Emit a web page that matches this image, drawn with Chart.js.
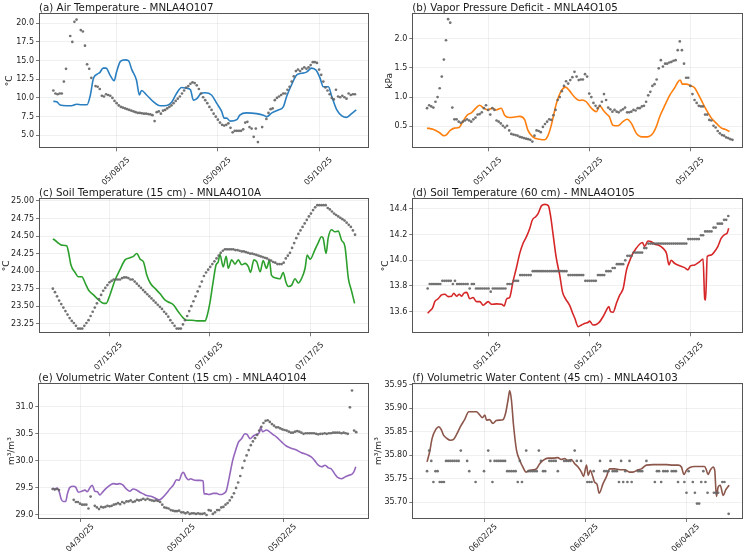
<!DOCTYPE html>
<html><head><meta charset="utf-8">
<script src="https://cdn.jsdelivr.net/npm/chart.js@4.4.0/dist/chart.umd.min.js"></script>
<style>
html,body{margin:0;padding:0;background:#fff;}
#wrap{position:relative;width:746px;height:554px;overflow:hidden;background:#fff;}
canvas{position:absolute;}
</style></head><body><div id="wrap">
<canvas id="cA" width="373" height="185" style="left:0px;top:0px"></canvas>
<canvas id="cB" width="373" height="185" style="left:373px;top:0px"></canvas>
<canvas id="cC" width="373" height="185" style="left:0px;top:185px"></canvas>
<canvas id="cD" width="373" height="185" style="left:373px;top:185px"></canvas>
<canvas id="cE" width="373" height="184" style="left:0px;top:370px"></canvas>
<canvas id="cF" width="373" height="184" style="left:373px;top:370px"></canvas>
</div>
<script>
// ---------------- DATA (times in hours from midnight of first labelled date) ----------------
// (a) Air Temperature
const airDates = ['05/08/25','05/09/25','05/10/25'];
const airYTicks = [5.0,7.5,10.0,12.5,15.0,17.5,20.0];
const airLineT = [-15.0,-14.2,-13.4,-11.9,-10.7,-9.5,-8.3,-7.0,-6.3,-5.5,-4.6,-4.0,-3.2,-2.5,-1.6,-0.6,0,0.9,2.0,2.8,3.6,4.7,5.4,5.9,7.1,8.7,10.3,11.9,13.0,14.2,15.4,16.6,17.5,18.2,19.0,20.0,20.9,22.5,23.7,24.9,25.5,26.1,26.9,28.5,29.2,30.8,33.2,34.8,35.6,36.8,38.3,39.5,40.3,41.5,42.7,43.9,45.1,46.2,47.3,48.2,49.0,50.2,51.0,52.2,53.4,54.5,55.7,56.8];
const airLineV = [9.55,9.5,9.05,8.95,8.95,9.15,9.1,9.1,10.2,12.6,13.2,13.4,14.0,14.0,13.1,12.3,13.5,14.9,15.1,15.0,13.8,12.4,10.4,11.0,10.4,9.5,8.95,9.0,9.4,10.6,11.4,11.3,11.1,9.7,9.9,10.6,10.7,10.4,9.3,8.2,7.3,7.3,6.9,7.1,7.7,8.0,7.9,7.7,7.5,8.0,8.4,8.8,10.2,11.8,13.1,13.3,13.5,14.0,13.7,12.7,11.5,11.5,10.2,8.4,7.6,7.4,7.9,8.4];
const airRawStart = -15.0, airRawStep = 0.5;
const airRaw = [11.0,10.6,10.5,10.6,10.6,12.2,13.9,null,18.3,17.5, 20.2,20.5,null,19.1,18.9,17.0,14.5,13.9,12.7,null, 11.6,11.5,11.2,10.3,10.2,10.5,10.4,10.3,10.0,9.6, 9.3,9.0,8.8,8.7,8.6,8.5,8.4,8.3,8.2,8.1, 8.0,8.0,7.95,7.9,7.9,7.85,7.8,7.7,6.9,8.1, 8.2,7.9,8.3,8.4,8.6,8.8,9.0,9.3,9.6,9.9, 10.2,10.6,11.0,11.4,11.6,11.9,12.1,12.0,11.7,11.2, 10.6,10.1,9.7,9.3,8.8,8.4,7.9,7.5,7.1,6.7, 6.4,6.3,6.4,6.6,6.0,5.4,5.6,5.6,5.6,5.6, 5.8,6.7,6.8,6.1,5.9,4.8,5.9,4.1,null,6.1, null,7.2,8.0,8.5,8.6,9.7,10.0,10.2,10.4,10.6, 10.6,11.1,11.5,12.2,12.9,13.6,13.8,13.6,13.9,14.1, 13.9,14.1,14.4,14.8,14.8,14.7,13.8,13.1,12.2,11.4, 11.0,10.5,10.0,9.8,11.1,10.2,10.1,10.3,10.1,9.9, 10.6,10.4,10.5,10.5];

// (b) Vapor Pressure Deficit
const vpdDates = ['05/11/25','05/12/25','05/13/25'];
const vpdYTicks = [0.5,1.0,1.5,2.0];
const vpdLineT = [-14.6,-13.2,-11.6,-10.6,-10.1,-9.1,-8.1,-7.0,-6.1,-5.1,-4.1,-2.9,-2.1,-1.3,-0.2,0.9,1.8,3.0,3.8,5.0,6.2,7.4,8.6,9.3,10.5,12.1,13.3,14.1,14.9,16.1,17.3,18.3,19.2,20.4,21.6,22.2,23.2,24.4,25.6,26.4,27.2,27.9,28.7,29.5,30.7,31.9,32.9,33.9,35.1,36.3,37.8,39.0,39.8,40.6,41.6,43.0,44.2,45.0,45.5,46.0,46.9,48.1,48.9,49.7,50.9,51.7,52.9,54.1,55.3,56.1,57.2];
const vpdLineV = [0.47,0.45,0.39,0.34,0.35,0.43,0.47,0.48,0.58,0.69,0.73,0.82,0.86,0.82,0.78,0.81,0.78,0.81,0.69,0.65,0.66,0.67,0.61,0.44,0.32,0.28,0.27,0.34,0.52,0.89,1.11,1.17,1.11,1.0,0.94,0.95,0.92,0.81,0.75,0.85,0.78,0.72,0.66,0.52,0.51,0.58,0.62,0.55,0.38,0.32,0.32,0.38,0.49,0.66,0.82,1.03,1.16,1.26,1.29,1.22,1.22,1.19,1.16,1.06,0.89,0.78,0.64,0.55,0.47,0.45,0.41];
const vpdRawStart = -14.6, vpdRawStep = 0.5;
const vpdRaw = [0.81,0.86,0.84,0.82,0.92,1.0,1.15,1.35,1.64,1.97, 2.33,2.27,0.82,0.62,0.62,0.58,0.56,0.58,0.60,0.62, 0.60,0.58,0.62,0.65,0.70,0.71,0.74,0.81,0.86,0.78, 0.70,0.81,0.78,0.60,0.58,0.55,0.51,0.48,0.51,0.43, 0.37,0.36,0.35,0.34,0.32,0.31,0.30,0.29,0.28,0.27, 0.24,0.34,0.43,0.42,0.40,0.49,0.54,0.58,0.62,0.61, 0.69,0.78,0.95,1.0,1.1,1.19,1.27,1.23,1.29,1.34, 1.43,1.35,1.29,1.30,1.30,1.39,1.35,1.06,1.0,0.90, 0.85,0.81,0.85,0.92,1.05,0.95,0.82,0.79,0.75,0.78, 0.75,0.74,0.77,0.79,0.82,0.74,0.74,0.75,0.78,0.77, 0.81,0.81,0.84,0.85,0.92,1.03,1.09,1.19,1.22,1.30, 1.49,1.63,1.52,1.57,1.57,1.59,1.60,1.62,1.63,1.80, 1.95,1.80,1.57,1.33,1.33,1.19,1.05,0.95,0.90,0.85, 0.84,0.84,0.70,0.70,0.61,0.60,0.51,0.48,0.42,0.38, 0.35,0.34,0.31,0.30,0.28,0.27];

// (c) Soil Temperature 15 cm
const s15Dates = ['07/15/25','07/16/25','07/17/25'];
const s15YTicks = [23.25,23.50,23.75,24.00,24.25,24.50,24.75,25.00];
const s15LineT = [-13.4,-12.9,-12.1,-11.3,-10.1,-9.7,-9.1,-8.1,-7.3,-6.5,-5.7,-4.9,-3.7,-2.5,-1.3,-0.7,0.2,1.4,2.6,3.8,5.0,5.8,6.6,7.4,8.2,9.0,9.8,11.0,12.1,13.3,14.1,15.3,16.5,17.7,18.5,19.7,20.9,22.1,22.9,23.3,24.0,24.8,25.5,26.0,26.4,27.2,27.9,28.4,29.2,30.0,30.8,31.6,32.4,33.2,33.7,34.5,35.2,36.0,36.7,37.5,38.2,38.7,39.9,40.7,41.5,42.1,42.7,43.5,44.3,45.1,45.9,46.7,47.2,47.9,49.0,49.8,50.6,51.0,51.7,52.2,53.0,53.8,54.6,55.4,56.2,57.0,57.8,58.5];
const s15LineV = [24.46,24.44,24.40,24.37,24.36,24.28,24.09,23.98,23.92,23.92,23.83,23.73,23.66,23.59,23.54,23.54,23.66,23.87,24.02,24.16,24.19,24.21,24.25,24.17,24.13,23.94,23.83,23.75,23.68,23.59,23.56,23.52,23.42,23.33,23.30,23.30,23.29,23.29,23.29,23.35,23.54,23.85,24.09,24.13,24.24,24.06,24.21,24.04,24.16,24.10,24.16,24.09,24.11,24.06,23.98,24.16,24.13,23.99,24.15,24.04,24.15,23.94,23.90,23.89,23.98,23.85,23.78,23.80,23.89,23.83,23.90,24.04,24.23,24.17,24.30,24.40,24.49,24.47,24.25,24.47,24.59,24.56,24.57,24.44,24.35,23.90,23.71,23.54];
const s15RawStart = -13.4, s15RawStep = 0.5;
const s15Raw = [23.75,23.70,23.64,23.58,23.53,23.48,23.43,23.38,23.33,23.29, 23.26,23.22,23.18,23.18,23.18,23.22,23.26,23.30,23.36,23.42, 23.48,23.54,23.60,23.66,23.72,23.76,23.80,23.84,23.86,23.88, 23.88,23.88,23.88,23.90,23.91,23.91,23.90,23.88,23.88,23.85, 23.82,23.79,23.76,23.73,23.70,23.67,23.64,23.61,23.58,23.55, 23.52,23.49,23.46,23.42,23.39,23.35,23.30,23.26,23.22,23.18, 23.18,23.18,23.24,23.30,23.36,23.43,23.50,23.57,23.64,23.71, 23.78,23.85,23.93,23.98,24.02,24.06,24.10,24.14,24.18,24.22, 24.26,24.29,24.31,24.31,24.31,24.31,24.31,24.30,24.30,24.29, 24.28,24.28,24.27,24.26,24.25,24.25,24.24,24.23,24.22,24.21, 24.20,24.19,24.18,24.16,24.15,24.13,24.12,24.10,24.10,24.10, 24.12,24.18,24.22,24.26,24.33,24.40,24.47,24.53,24.58,24.63, 24.68,24.73,24.78,24.82,24.87,24.91,24.94,24.94,24.94,24.94, 24.94,24.90,24.88,24.85,24.82,24.80,24.78,24.76,24.74,24.72, 24.69,24.66,24.63,24.58,24.52];

// (d) Soil Temperature 60 cm
const s60Dates = ['05/11/25','05/12/25','05/13/25'];
const s60YTicks = [13.6,13.8,14.0,14.2,14.4];
const s60LineT = [-14.4,-13.9,-13.2,-12.7,-11.9,-11.1,-10.3,-9.5,-8.7,-8.2,-7.5,-6.9,-6.3,-5.8,-5.1,-4.4,-3.6,-2.8,-2.0,-1.2,0,0.8,2.0,3.2,3.8,4.4,5.1,5.9,6.7,7.5,8.3,9.1,9.9,10.5,11.3,11.9,12.7,13.5,14.3,14.8,15.4,16.2,17.0,17.7,18.4,19.4,20.0,20.6,21.4,22.2,23.0,23.8,24.1,24.9,25.7,26.5,27.3,28.1,28.7,29.1,29.7,30.5,31.3,32.1,32.9,33.7,34.4,35.2,36.0,36.7,37.2,38.0,38.8,39.6,40.4,41.6,42.4,43.0,43.5,44.3,45.5,46.7,47.5,48.1,49.1,50.3,51.1,51.5,51.7,52.1,53.0,53.8,54.6,55.4,56.2,56.8,57.2];
const s60LineV = [13.587,13.605,13.63,13.678,13.70,13.73,13.735,13.717,13.72,13.743,13.72,13.735,13.72,13.743,13.75,13.70,13.71,13.678,13.678,13.65,13.678,13.657,13.66,13.657,13.644,13.70,13.71,13.834,13.94,14.054,14.133,14.184,14.25,14.314,14.34,14.366,14.426,14.436,14.426,14.353,14.21,14.016,13.886,13.75,13.70,13.647,13.595,13.548,13.483,13.496,13.509,13.517,13.527,13.496,13.50,13.52,13.56,13.61,13.64,13.60,13.595,13.665,13.73,13.78,13.925,14.0,14.054,14.093,14.125,14.138,14.107,14.15,14.145,14.125,14.12,14.093,14.054,13.964,14.0,13.977,13.958,13.943,13.925,13.956,13.964,13.99,14.01,13.70,13.69,14.03,14.04,14.067,14.107,14.17,14.20,14.21,14.25];
const s60RawStart = -14.4, s60RawStep = 0.5;
const s60Raw = [13.78, 13.815,13.815,13.815,13.815,13.815,13.815, 13.84,13.84,13.84,13.84,13.84, 13.815, 13.84, 13.815,13.815,13.815,13.815,13.815,13.815, 13.78, 13.815,13.815, 13.78,13.78,13.78,13.78,13.78,13.78,13.78, 13.755, 13.78,13.78,13.78,13.78,13.78,13.78,13.78, 13.815,13.815,13.815, 13.84,13.84,13.84,
 13.885,13.885,13.885,13.885,13.885,13.885,
 13.915,13.915,13.915,13.915,13.915,13.915,13.915,13.915,13.915,13.915,13.915,13.915,13.915,13.915,13.915,13.915,13.915,
 13.885,13.885,13.885,13.885,13.885,13.885,13.885,13.885,
 13.84,13.84,13.84,13.84,13.84,13.84,
 13.885,13.885,13.885,13.885, 13.915,13.915,13.915, 13.94,13.94, 13.97,13.97,13.97,13.97, 14.0, 14.035,14.035,14.035,
 14.06,14.06,14.06,14.06,14.06, 14.095,14.095,
 14.13,14.13,14.13,14.13,14.13,14.13,14.13,14.13,14.13,14.13,14.13,14.13,14.13,14.13,14.13,14.13,14.13,14.13,14.13,
 14.165,14.165,14.165,14.165,14.165,14.165, 14.195,14.195, 14.225,14.225,14.225,14.225, 14.255,14.255, 14.285,14.285,14.285, 14.315,14.315, 14.345];

// (e) Volumetric Water Content 15 cm
const w15Dates = ['04/30/25','05/01/25','05/02/25'];
const w15YTicks = [29.0,29.5,30.0,30.5,31.0];
const w15LineT = [-6.7,-6.2,-5.6,-5.1,-4.7,-4.2,-3.6,-3.2,-2.6,-1.8,-1.2,-0.6,0.2,1.0,1.5,2.1,2.7,3.3,3.9,4.5,5.1,6.1,6.9,7.7,8.5,9.2,10.0,10.8,11.6,12.4,13.2,14.0,14.8,15.6,16.8,17.9,18.6,19.5,20.3,21.1,21.9,22.7,23.3,23.9,24.3,24.9,25.5,26.0,26.6,27.4,28.2,29.0,29.2,29.8,30.4,31.4,32.2,32.8,33.4,33.9,34.5,35.2,36.0,36.8,37.4,38.1,38.9,39.4,40.1,40.9,41.7,42.3,42.6,43.1,44.0,44.7,45.5,46.4,47.6,48.8,50.0,51.1,52.3,53.5,54.7,55.5,56.3,57.1,57.9,58.7,59.4,60.2,60.8,61.8,62.6,63.4,64.2,64.7,65.2];
const w15LineV = [29.5,29.48,29.5,29.42,29.3,29.25,29.25,29.39,29.51,29.53,29.51,29.42,29.44,29.46,29.43,29.5,29.55,29.44,29.43,29.37,29.42,29.5,29.55,29.58,29.57,29.58,29.55,29.48,29.44,29.48,29.46,29.42,29.39,29.36,29.34,29.3,29.28,29.33,29.4,29.48,29.55,29.65,29.64,29.76,29.79,29.7,29.65,29.67,29.65,29.64,29.64,29.63,29.39,29.39,29.38,29.4,29.4,29.38,29.38,29.4,29.45,29.7,30.01,30.22,30.35,30.41,30.5,30.49,30.41,30.46,30.49,30.52,30.62,30.54,30.57,30.54,30.49,30.44,30.35,30.27,30.23,30.2,30.15,30.12,30.07,30.0,29.92,29.89,29.92,29.87,29.85,29.76,29.7,29.67,29.7,29.73,29.75,29.79,29.89];
const w15RawStart = -6.7, w15RawStep = 0.5;
const w15Raw = [29.48,29.47,29.48,29.46,null,null,null,null,null,null, 29.28,29.24,29.24,29.21,29.19,29.19,29.19,29.12,29.34,null, 29.17,29.14,29.11,29.15,29.14,29.15,29.17,29.16,29.17,29.19, 29.2,29.22,29.2,29.24,29.22,29.25,29.25,29.27,29.24,29.25, 29.28,29.27,29.28,29.3,29.28,29.3,29.28,29.27,29.26,29.27, 29.26,29.24,29.19,29.14,29.13,29.12,29.09,29.08,29.07,29.07, 29.08,29.05,29.05,29.03,29.05,29.02,29.03,29.03,29.02,29.03, 29.02,29.02,29.03,29.0,29.09,29.08,29.02,29.05,29.09,29.09, 29.14,29.15,29.19,29.22,29.27,29.33,29.4,29.5,29.6,29.72, 29.87,30.0,30.1,30.2,30.29,30.36,30.42,30.48,30.56,30.63, 30.7,30.74,30.75,30.72,30.68,30.65,30.62,30.62,30.6,30.58, 30.57,30.56,30.54,30.52,30.52,30.54,30.55,30.54,30.52,30.5, 30.51,30.51,30.51,30.51,30.51,30.5,30.49,30.5,30.5,30.51, 30.5,30.51,30.51,30.52,30.52,30.52,30.52,30.51,30.52,30.51, 30.5,30.99,31.3,30.56,30.53];

// (f) Volumetric Water Content 45 cm
const w45Dates = ['06/02/25','06/03/25','06/04/25'];
const w45YTicks = [35.70,35.75,35.80,35.85,35.90,35.95];
const w45LineT = [-13.5,-12.9,-12.3,-11.5,-10.7,-10.1,-9.6,-8.8,-8.0,-7.2,-6.4,-5.6,-4.6,-3.6,-2.6,-1.8,-1.0,-0.4,0.2,0.6,1.3,2.1,2.9,3.7,4.5,5.1,5.7,6.1,6.5,7.0,7.7,8.5,9.2,10.0,10.8,11.6,12.4,13.2,14.0,15.2,16.4,17.5,18.3,19.1,19.9,20.7,21.5,22.3,23.1,23.6,24.3,24.7,25.2,25.8,26.2,26.8,27.3,28.2,29.0,29.8,31.0,32.2,33.4,34.5,35.3,36.5,37.3,38.5,40.1,41.7,43.2,44.8,46.0,46.8,47.4,48.0,48.8,50.0,51.1,52.3,52.7,53.1,53.7,54.3,54.7,55.1,55.5,56.0,56.7,57.3,58.1];
const w45LineV = [35.786,35.807,35.836,35.854,35.861,35.854,35.843,35.836,35.832,35.834,35.846,35.861,35.876,35.893,35.893,35.893,35.886,35.88,35.886,35.875,35.876,35.868,35.874,35.875,35.876,35.889,35.918,35.938,35.918,35.864,35.811,35.789,35.775,35.764,35.768,35.769,35.771,35.782,35.789,35.794,35.794,35.795,35.791,35.793,35.789,35.791,35.782,35.775,35.764,35.755,35.779,35.757,35.768,35.754,35.743,35.738,35.719,35.739,35.754,35.771,35.771,35.769,35.769,35.764,35.764,35.769,35.771,35.779,35.780,35.780,35.780,35.779,35.779,35.775,35.759,35.768,35.774,35.776,35.776,35.776,35.769,35.759,35.769,35.775,35.768,35.712,35.732,35.736,35.714,35.726,35.736];
const w45RawStart = -13.5, w45RawStep = 0.5;
const w45Raw = [35.766,35.81,35.788,35.743,35.766,35.766,35.743,35.743,35.743,35.788, 35.788,35.788,35.788,35.788,35.788,35.788,35.81,null,null,35.788, 35.766,null,null,35.743,null,null,null,35.766,null,35.81, 35.788,35.743,35.788,35.788,35.788,35.788,35.788,35.788,35.766,35.766, 35.766,35.766,35.766,35.743,35.788,35.743,null,35.81,35.766,35.766, 35.766,35.766,35.766,35.81,35.788,35.766,35.766,null,35.788,35.788, 35.788,35.788,35.766,null,null,35.788,35.788,35.788,35.788,null, 35.81,35.788,null,35.788,null,null,35.743,35.743,35.743,35.766, null,null,35.788,null,35.766,35.766,35.766,35.788,35.766,35.766, 35.766,35.743,35.788,35.743,35.766,35.743,35.788,35.743,null,null, 35.766,35.766,35.766,null,35.788,null,null,null,35.743,35.766, 35.766,35.743,35.766,35.766,35.766,null,35.766,35.766,35.766,35.743, null,null,35.743,35.72,35.766,null,35.743,35.72,35.697,35.697, 35.743,35.766,35.743,35.72,null,null,35.72,35.72,35.72,null, 35.743,35.743,null,35.675];

const dayTicks = [0, 24, 48];

// ---------------- RENDERING ----------------
const FONT = '"DejaVu Sans", "Liberation Sans", sans-serif';

const decoPlugin = {
  id: 'deco',
  afterDraw(chart, args, o) {
    const ctx = chart.ctx, a = chart.chartArea;
    ctx.save();
    ctx.strokeStyle = '#555';
    ctx.lineWidth = 1;
    const l = Math.round(a.left) + 0.5, t = Math.round(a.top) + 0.5;
    const r = Math.round(a.right) - 0.5, b = Math.round(a.bottom) - 0.5;
    ctx.strokeRect(l, t, r - l, b - t);
    ctx.fillStyle = '#1a1a1a';
    ctx.font = '10.3px ' + FONT;
    ctx.textAlign = 'left';
    ctx.textBaseline = 'alphabetic';
    ctx.fillText(o.title, a.left, o.titleY);
    ctx.font = '9px ' + FONT;
    ctx.translate(o.ylabelX, (a.top + a.bottom) / 2);
    ctx.rotate(-Math.PI / 2);
    ctx.textAlign = 'center';
    ctx.textBaseline = 'middle';
    ctx.fillText(o.ylabel, 0, 0);
    ctx.restore();
  }
};

function makePanel(p) {
  const raw = [];
  p.raw.forEach((v, i) => { if (v !== null) raw.push({x: p.rawStart + i * p.rawStep, y: v}); });
  const line = p.lineT.map((t, i) => ({x: t, y: p.lineV[i]}));
  return new Chart(document.getElementById(p.id), {
    type: 'scatter',
    data: {
      datasets: [
        {type: 'scatter', data: raw, order: 0, pointRadius: 1.35, pointHoverRadius: 0,
         backgroundColor: 'rgba(100,100,100,0.9)', borderWidth: 0},
        {type: 'line', data: line, order: 1, showLine: true, pointRadius: 0, borderColor: p.color,
         borderWidth: 1.6, cubicInterpolationMode: 'monotone', fill: false}
      ]
    },
    options: {
      responsive: false, animation: false, events: [],
      layout: {autoPadding: false, padding: {top: p.top, right: p.right, left: 0, bottom: 0}},
      plugins: {
        legend: {display: false}, tooltip: {enabled: false},
        deco: {title: p.title, titleY: p.titleY, ylabel: p.ylabel, ylabelX: p.ylabelX}
      },
      scales: {
        x: {
          type: 'linear', min: p.xMin, max: p.xMax,
          afterBuildTicks: s => { s.ticks = dayTicks.map(v => ({value: v})); },
          afterFit: s => { s.height = p.xH; },
          grid: {color: 'rgba(0,0,0,0.08)', lineWidth: 0.8, drawTicks: true, tickLength: 3, tickColor: '#555'},
          border: {display: false},
          ticks: {autoSkip: false, minRotation: 45, maxRotation: 45, padding: p.xPad, labelOffset: 12,
                  color: '#222', font: {family: FONT, size: 8},
                  callback: (v, i) => p.dates[i]}
        },
        y: {
          type: 'linear', min: p.yMin, max: p.yMax,
          afterBuildTicks: s => { s.ticks = p.yTicks.map(v => ({value: v})); },
          afterFit: s => { s.width = p.yW; },
          grid: {color: 'rgba(0,0,0,0.08)', lineWidth: 0.8, drawTicks: true, tickLength: 3, tickColor: '#555'},
          border: {display: false},
          ticks: {padding: 2, color: '#222', font: {family: FONT, size: 8},
                  callback: v => Number(v).toFixed(p.yDec)}
        }
      }
    },
    plugins: [decoPlugin]
  });
}

makePanel({id: 'cA', title: '(a) Air Temperature - MNLA4O107', ylabel: '°C', ylabelX: 10, titleY: 10.5,
  top: 13.3, right: 3.7, yW: 39, xH: 36.7, xPad: 4, color: '#2a7fc1',
  xMin: -18.4, xMax: 59.9, yMin: 3.26, yMax: 21.34, yTicks: airYTicks, yDec: 1, dates: airDates,
  lineT: airLineT, lineV: airLineV, raw: airRaw, rawStart: airRawStart, rawStep: airRawStep});

makePanel({id: 'cB', title: '(b) Vapor Pressure Deficit - MNLA4O105', ylabel: 'kPa', ylabelX: 16.7, titleY: 10.5,
  top: 13.3, right: 3, yW: 39.3, xH: 36.7, xPad: 4, color: '#ff7f0e',
  xMin: -18.1, xMax: 60.4, yMin: 0.125, yMax: 2.43, yTicks: vpdYTicks, yDec: 1, dates: vpdDates,
  lineT: vpdLineT, lineV: vpdLineV, raw: vpdRaw, rawStart: vpdRawStart, rawStep: vpdRawStep});

makePanel({id: 'cC', title: '(c) Soil Temperature (15 cm) - MNLA4O10A', ylabel: '°C', ylabelX: 7, titleY: 10.5,
  top: 13.3, right: 3.7, yW: 39, xH: 36.7, xPad: 4, color: '#2ca02c',
  xMin: -16.7, xMax: 62.0, yMin: 23.113, yMax: 25.038, yTicks: s15YTicks, yDec: 2, dates: s15Dates,
  lineT: s15LineT, lineV: s15LineV, raw: s15Raw, rawStart: s15RawStart, rawStep: s15RawStep});

makePanel({id: 'cD', title: '(d) Soil Temperature (60 cm) - MNLA4O105', ylabel: '°C', ylabelX: 12.7, titleY: 10.5,
  top: 13.3, right: 3, yW: 39.3, xH: 36.7, xPad: 4, color: '#d62728',
  xMin: -18.05, xMax: 60.6, yMin: 13.431, yMax: 14.483, yTicks: s60YTicks, yDec: 1, dates: s60Dates,
  lineT: s60LineT, lineV: s60LineV, raw: s60Raw, rawStart: s60RawStart, rawStep: s60RawStep});

makePanel({id: 'cE', title: '(e) Volumetric Water Content (15 cm) - MNLA4O104', ylabel: 'm³/m³', ylabelX: 11.7, titleY: 10.5,
  top: 13.3, right: 3.7, yW: 38.3, xH: 35, xPad: 0, color: '#9467bd',
  xMin: -10.1, xMax: 68.4, yMin: 28.926, yMax: 31.433, yTicks: w15YTicks, yDec: 1, dates: w15Dates,
  lineT: w15LineT, lineV: w15LineV, raw: w15Raw, rawStart: w15RawStart, rawStep: w15RawStep});

makePanel({id: 'cF', title: '(f) Volumetric Water Content (45 cm) - MNLA4O103', ylabel: 'm³/m³', ylabelX: 6, titleY: 10.5,
  top: 13.3, right: 3, yW: 39.3, xH: 35, xPad: 0, color: '#8c564b',
  xMin: -17.0, xMax: 61.4, yMin: 35.664, yMax: 35.9536, yTicks: w45YTicks, yDec: 2, dates: w45Dates,
  lineT: w45LineT, lineV: w45LineV, raw: w45Raw, rawStart: w45RawStart, rawStep: w45RawStep});
</script>
</body></html>
